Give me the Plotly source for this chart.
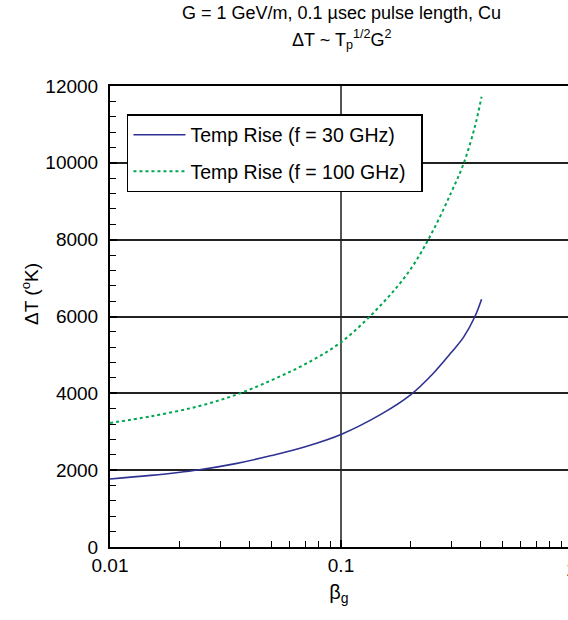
import plotly.graph_objects as go

beta_g = [0.01, 0.015, 0.024, 0.035, 0.05, 0.07, 0.1, 0.15, 0.2, 0.25, 0.3, 0.34, 0.38, 0.406]
temp_30ghz = [1770, 1864, 2005, 2171, 2380, 2610, 2930, 3465, 3960, 4510, 5060, 5470, 6000, 6450]
temp_100ghz = [3230, 3400, 3660, 3960, 4340, 4760, 5330, 6320, 7230, 8230, 9230, 9990, 10950, 11720]

y_ticks = [0, 2000, 4000, 6000, 8000, 10000, 12000]
y_tick_labels = ["0", "2000", "4000", "6000", "8000", "10000", "12000"]
x_ticks = [0.01, 0.1, 1]
x_tick_labels = ["0.01", "0.1", "1"]
x_minor = [0.02, 0.03, 0.04, 0.05, 0.06, 0.07, 0.08, 0.09,
           0.2, 0.3, 0.4, 0.5, 0.6, 0.7, 0.8, 0.9]

FONT = "Liberation Sans, Arial, sans-serif"
NB = "\u00a0\u00a0"

fig = go.Figure()
fig.add_trace(go.Scatter(
    x=beta_g, y=temp_30ghz, mode="lines", name="Temp Rise (f = 30 GHz)" + NB,
    line=dict(color="#2E3192", width=1.6, shape="spline", smoothing=1.0), legendgroup="a"))
fig.add_trace(go.Scatter(
    x=beta_g, y=temp_100ghz, mode="lines", name="Temp Rise (f = 100 GHz)" + NB,
    line=dict(color="#00A651", width=2, dash="dot", shape="spline", smoothing=1.0), legendgroup="b"))

fig.update_layout(
    width=568, height=620,
    margin=dict(l=110, r=0, t=86, b=73),
    paper_bgcolor="white", plot_bgcolor="white",
    font=dict(family=FONT, size=19, color="black"),
    showlegend=True,
    legend=dict(x=0.037, y=0.939, xanchor="left", yanchor="top",
                bordercolor="black", borderwidth=1.5, bgcolor="white",
                font=dict(family=FONT, size=19.5), tracegroupgap=8,
                itemwidth=52),
    xaxis=dict(type="log", range=[-2, -0.0173], automargin=False,
               tickvals=x_ticks, ticktext=x_tick_labels,
               ticks="inside", ticklen=7, tickwidth=1.5, tickcolor="black",
               showline=True, linecolor="black", linewidth=2, mirror=True,
               showgrid=True, gridcolor="#555", gridwidth=1.8,
               zeroline=False,
               tickfont=dict(family=FONT, size=19),
               minor=dict(tickvals=x_minor, ticks="inside", ticklen=6,
                          tickwidth=1, tickcolor="black", showgrid=False),
               title=dict(text="β<sub>g</sub>", font=dict(family=FONT, size=20), standoff=10)),
    yaxis=dict(range=[0, 12000], tickvals=y_ticks, ticktext=y_tick_labels, automargin=False,
               ticks="inside", ticklen=7, tickwidth=1.5, tickcolor="black",
               showline=True, linecolor="black", linewidth=2, mirror=False,
               showgrid=True, gridcolor="#222", gridwidth=1.5,
               zeroline=False, ticklabelstandoff=6,
               tickfont=dict(family=FONT, size=19),
               minor=dict(dtick=400, ticks="inside", ticklen=6,
                          tickwidth=1, tickcolor="black", showgrid=False)),
    annotations=[
        dict(text="G = 1 GeV/m, 0.1 µsec pulse length, Cu", xref="paper", yref="paper",
             x=0.5045, y=1.158, xanchor="center", yanchor="middle", showarrow=False,
             font=dict(family=FONT, size=18)),
        dict(text="ΔT ~ T<sub>p</sub><sup>1/2</sup>G<sup>2</sup>", xref="paper", yref="paper",
             x=0.5045, y=1.10, xanchor="center", yanchor="middle", showarrow=False,
             font=dict(family=FONT, size=18)),
        dict(text="ΔT (<sup>o</sup>K)", xref="paper", yref="paper",
             x=-0.1747, y=0.549, xanchor="center", yanchor="middle", textangle=-90,
             showarrow=False, font=dict(family=FONT, size=19)),
        dict(text="1", xref="paper", yref="paper", x=1.0087, y=-0.048,
             xanchor="center", yanchor="middle", showarrow=False,
             font=dict(family=FONT, size=19)),
    ],
)

fig.write_html("out.html", config={"displayModeBar": False},
               post_script="document.body.style.margin='0';document.body.style.overflow='hidden';")
